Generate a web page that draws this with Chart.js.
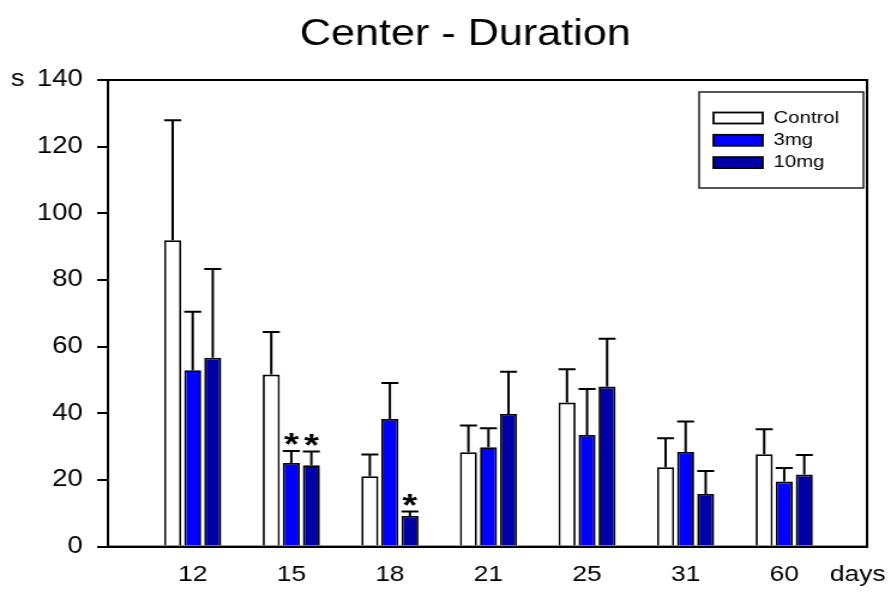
<!DOCTYPE html>
<html>
<head>
<meta charset="utf-8">
<script src="https://cdn.jsdelivr.net/npm/chart.js@4.4.0/dist/chart.umd.min.js"></script>
<style>
  body { margin: 0; background: #fff; }
</style>
</head>
<body>
<!-- canvas is drawn narrow and stretched sideways to the page width -->
<canvas id="durationChart" width="743" height="603" style="width:891px;height:603px"></canvas>

<script>
  // test days
  const categories = ["12", "15", "18", "21", "25", "31", "60"];

  // mean time in center (s) and SEM per group
  const controlMean = [91.9, 51.6, 21.1, 28.3, 43.2, 23.8, 27.7];
  const controlSem = [36.0, 12.8, 6.5, 8.0, 10.0, 8.7, 7.5];
  const mg3Mean = [52.9, 25.1, 38.3, 29.8, 33.5, 28.4, 19.5];
  const mg3Sem = [17.6, 3.6, 10.8, 5.7, 13.8, 9.1, 4.1];
  const mg10Mean = [56.7, 24.4, 9.2, 39.8, 48.0, 15.8, 21.6];
  const mg10Sem = [26.6, 4.1, 1.3, 12.7, 14.4, 6.9, 5.9];

  // significant vs control
  const controlSig = [0, 0, 0, 0, 0, 0, 0];
  const mg3Sig = [0, 1, 0, 0, 0, 0, 0];
  const mg10Sig = [0, 1, 1, 0, 0, 0, 0];

  const yTicks = [0, 20, 40, 60, 80, 100, 120, 140];

  const FONT = "'Liberation Sans', Arial, Helvetica, sans-serif";

  function points(values) {
    return values.map((v, i) => ({ x: i, y: v }));
  }

  // upper error bar + asterisk above each bar
  const errorBars = {
    id: "errorBars",
    afterDatasetsDraw(chart) {
      const ctx = chart.ctx;
      const yScale = chart.scales.y;
      chart.data.datasets.forEach((ds, d) => {
        const meta = chart.getDatasetMeta(d);
        meta.data.forEach((bar, i) => {
          const top = yScale.getPixelForValue(ds.data[i].y + ds.sem[i]);
          const half = bar.width / 2;
          ctx.save();
          ctx.strokeStyle = "#000";
          ctx.lineWidth = 2;
          ctx.beginPath();
          ctx.moveTo(bar.x, bar.y);
          ctx.lineTo(bar.x, top);
          ctx.moveTo(bar.x - half, top);
          ctx.lineTo(bar.x + half, top);
          ctx.stroke();
          if (ds.sig[i]) {
            ctx.fillStyle = "#000";
            ctx.font = "bold 32px " + FONT;
            ctx.textAlign = "center";
            ctx.textBaseline = "alphabetic";
            ctx.fillText("*", bar.x, top + 4);
          }
          ctx.restore();
        });
      });
    },
  };

  // title, box round the plot, legend, unit labels
  const frame = {
    id: "frame",
    afterDraw(chart) {
      const ctx = chart.ctx;
      const a = chart.chartArea;
      ctx.save();
      ctx.fillStyle = "#000";
      ctx.font = "36px " + FONT;
      ctx.textAlign = "center";
      ctx.textBaseline = "middle";
      ctx.fillText("Center - Duration", 388, 35);

      ctx.strokeStyle = "#000";
      ctx.lineWidth = 2;
      ctx.strokeRect(a.left, a.top, a.right - a.left, a.bottom - a.top);

      // legend
      const by = a.top + 12;
      ctx.lineWidth = 1.5;
      ctx.strokeStyle = "#222";
      ctx.strokeRect(a.right - 140, by, 137, 96);
      ctx.font = "17px " + FONT;
      ctx.textBaseline = "middle";
      ctx.textAlign = "left";
      chart.data.datasets.forEach((ds, d) => {
        const rowY = by + 26 + d * 22.3;
        ctx.fillStyle = ds.backgroundColor;
        ctx.fillRect(a.right - 128, rowY - 5.5, 41, 11);
        ctx.strokeStyle = "#000";
        ctx.lineWidth = 1.8;
        ctx.strokeRect(a.right - 128, rowY - 5.5, 41, 11);
        ctx.fillStyle = "#000";
        ctx.fillText(ds.label, a.right - 78, rowY);
      });

      // units
      ctx.fillStyle = "#000";
      ctx.font = "23px " + FONT;
      ctx.textBaseline = "middle";
      ctx.textAlign = "left";
      ctx.fillText("s", 9, chart.scales.y.getPixelForValue(140));
      ctx.font = "22px " + FONT;
      ctx.fillText("days", a.right - 31, a.bottom + 28);
      ctx.restore();
    },
  };

  const ctx = document.getElementById("durationChart").getContext("2d");
  new Chart(ctx, {
    type: "bar",
    data: {
      datasets: [
        {
          label: "Control",
          data: points(controlMean),
          sem: controlSem,
          sig: controlSig,
          backgroundColor: "#ffffff",
        },
        {
          label: "3mg",
          data: points(mg3Mean),
          sem: mg3Sem,
          sig: mg3Sig,
          backgroundColor: "#0000ff",
        },
        {
          label: "10mg",
          data: points(mg10Mean),
          sem: mg10Sem,
          sig: mg10Sig,
          backgroundColor: "#0000a6",
        },
      ],
    },
    options: {
      responsive: false,
      animation: false,
      devicePixelRatio: 1,
      layout: { padding: { left: 0, right: 20, top: 80, bottom: 0 } },
      datasets: {
        bar: {
          borderColor: "#000",
          borderWidth: 1.8,
          categoryPercentage: 0.61,
          barPercentage: 0.85,
        },
      },
      plugins: {
        legend: { display: false },
        tooltip: { enabled: false },
        title: { display: false },
      },
      scales: {
        x: {
          type: "linear",
          offset: false,
          min: -0.86,
          max: 6.84,
          afterBuildTicks(axis) {
            axis.ticks = categories.map((c, i) => ({ value: i }));
          },
          grid: { display: false, drawTicks: false },
          border: { color: "#000", width: 2 },
          ticks: {
            color: "#000",
            padding: 15,
            font: { family: FONT, size: 22 },
            callback: (value) => categories[value],
          },
        },
        y: {
          min: 0,
          max: 140,
          afterBuildTicks(axis) {
            axis.ticks = yTicks.map((v) => ({ value: v }));
          },
          afterFit(axis) {
            axis.width = 90;
          },
          grid: {
            drawOnChartArea: false,
            color: "#000",
            lineWidth: 2,
            tickLength: 9,
          },
          border: { color: "#000", width: 2 },
          ticks: {
            color: "#000",
            padding: 12,
            font: { family: FONT, size: 23 },
          },
        },
      },
    },
    plugins: [errorBars, frame],
  });
</script>
</body>
</html>
